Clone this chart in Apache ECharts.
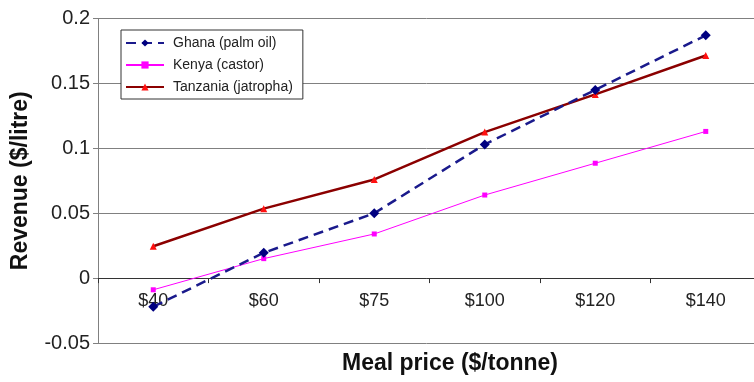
<!DOCTYPE html>
<html>
<head>
<meta charset="utf-8">
<script src="https://cdn.jsdelivr.net/npm/echarts@6/dist/echarts.min.js"></script>
<style>
  html, body { margin: 0; padding: 0; background: #fff; }
  #chart { width: 754px; height: 382px; }
</style>
</head>
<body>
<div id="chart"></div>
<script>
// Meal price categories
const categories = ['$40', '$60', '$75', '$100', '$120', '$140'];

// Revenue ($/litre) per country and feedstock
const ghanaPalmOil = [-0.022, 0.0195, 0.050, 0.103, 0.145, 0.187];
const kenyaCastor = [-0.009, 0.015, 0.034, 0.064, 0.0885, 0.113];
const tanzaniaJatropha = [0.0245, 0.0535, 0.076, 0.1125, 0.1415, 0.1715];

// Value axis ticks
const yMin = -0.05;
const yMax = 0.2;
const yStep = 0.05;

const gridTop = 18.5;
const gridBottomY = 343;
// Category axis sits on the zero line: shift it up from the grid bottom
const zeroOffset = -(gridBottomY - gridTop) * (0 - yMin) / (yMax - yMin);

const chart = echarts.init(document.getElementById('chart'), null, { renderer: 'canvas' });

const font = 'Arial, "Liberation Sans", Helvetica, sans-serif';

chart.setOption({
  animation: false,
  backgroundColor: '#ffffff',
  textStyle: { fontFamily: font },
  grid: {
    left: 98,
    right: -7,
    top: gridTop,
    bottom: 382 - gridBottomY,
    containLabel: false,
    outerBoundsMode: 'none'
  },
  legend: {
    orient: 'vertical',
    left: 121,
    top: 30,
    backgroundColor: '#ffffff',
    borderColor: '#333333',
    borderWidth: 1,
    borderRadius: 0,
    padding: [6, 10, 5, 4],
    itemGap: 8,
    itemWidth: 38,
    itemHeight: 9,
    textStyle: {
      fontFamily: font,
      fontSize: 14,
      lineHeight: 14,
      color: '#222222',
      padding: [0, 0, 0, 4]
    },
    data: ['Ghana (palm oil)', 'Kenya (castor)', 'Tanzania (jatropha)']
  },
  xAxis: {
    type: 'category',
    data: categories,
    boundaryGap: true,
    offset: zeroOffset,
    axisLine: { onZero: false, lineStyle: { color: '#333333', width: 1 } },
    axisTick: { show: true, interval: 0, length: 5, lineStyle: { color: '#333333' } },
    axisLabel: { fontSize: 18, color: '#222222', margin: 14, fontFamily: font },
    splitLine: { show: false }
  },
  yAxis: {
    type: 'value',
    min: yMin,
    max: yMax,
    interval: yStep,
    axisLine: { show: true, onZero: false, lineStyle: { color: '#808080', width: 1 } },
    axisTick: { show: true, length: 5, lineStyle: { color: '#808080' } },
    axisLabel: {
      fontSize: 20,
      color: '#222222',
      margin: 8,
      fontFamily: font,
      formatter: v => String(Number(v.toFixed(2)))
    },
    splitLine: { show: true, lineStyle: { color: '#808080', width: 1 } },
    name: 'Revenue ($/litre)',
    nameLocation: 'middle',
    nameGap: 66,
    nameRotate: 90,
    nameTextStyle: { fontSize: 23, fontWeight: 'bold', color: '#111111', fontFamily: font }
  },
  graphic: [{
    type: 'text',
    x: 450,
    y: 364,
    style: {
      text: 'Meal price ($/tonne)',
      font: 'bold 23px ' + font,
      fill: '#111111',
      align: 'center',
      verticalAlign: 'middle'
    }
  }],
  series: [
    {
      name: 'Tanzania (jatropha)',
      type: 'line',
      data: tanzaniaJatropha,
      symbol: 'triangle',
      symbolSize: 7,
      itemStyle: { color: '#ff1010' },
      lineStyle: { color: '#8b0000', width: 2.5 },
      z: 2
    },
    {
      name: 'Kenya (castor)',
      type: 'line',
      data: kenyaCastor,
      symbol: 'rect',
      symbolSize: 5,
      itemStyle: { color: '#ff00ff' },
      lineStyle: { color: '#ff00ff', width: 1 },
      z: 3
    },
    {
      name: 'Ghana (palm oil)',
      type: 'line',
      data: ghanaPalmOil,
      symbol: 'diamond',
      symbolSize: 10,
      itemStyle: { color: '#000080' },
      lineStyle: { color: '#1a1a8c', width: 2.5, type: [10, 6] },
      z: 4
    }
  ]
});
</script>
</body>
</html>
